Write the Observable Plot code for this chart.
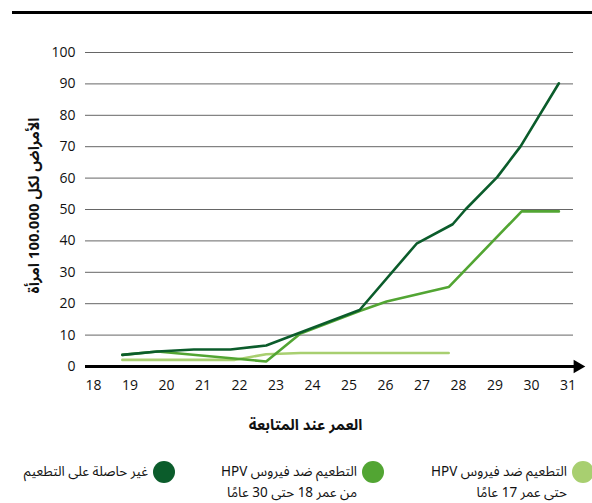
<!DOCTYPE html>
<html><head><meta charset="utf-8">
<script src="https://cdn.jsdelivr.net/npm/d3@7"></script>
<script src="https://cdn.jsdelivr.net/npm/@observablehq/plot@0.6"></script>
<style>
body{margin:0;background:#fff;width:592px;height:503px;position:relative;overflow:hidden;font-family:"Open Sans","DejaVu Sans",sans-serif;}
#rule{position:absolute;left:12px;top:11px;width:580px;height:3px;background:#000;}
#chart{position:absolute;left:0;top:14px;}
.dot{position:absolute;width:22px;height:22px;border-radius:50%;}
.txt{position:absolute;direction:rtl;text-align:right;font-family:"Noto Sans Arabic","DejaVu Sans",sans-serif;font-size:13.5px;line-height:21px;white-space:nowrap;color:#111;}
</style></head><body>
<div id="rule"></div>
<div id="chart"></div>
<div id="legend"></div>
<script>
// ---- data ----
const seriesNames = ["vax17", "vax18to30", "unvaccinated"];
const legendLabels = [
  ["التطعيم ضد فيروس HPV", "حتى عمر 17 عامًا"],
  ["التطعيم ضد فيروس HPV", "من عمر 18 حتى 30 عامًا"],
  ["غير حاصلة على التطعيم"]
];
const seriesColors = ["#a8cf70", "#52a533", "#0b5c2b"];

const agesVax17 = [18.79, 21.85, 22.73, 23.67, 27.73];
const ratesVax17 = [2.1, 2.1, 3.9, 4.3, 4.3];

const agesVax18to30 = [18.79, 19.75, 22.73, 23.67, 25.29, 26.03, 27.73, 29.73, 30.75];
const ratesVax18to30 = [3.7, 4.8, 1.6, 10.5, 17.7, 20.7, 25.3, 49.4, 49.4];

const agesUnvax = [18.79, 19.75, 20.75, 21.75, 22.73, 25.29, 26.85, 27.84, 28.19, 29.06, 29.7, 30.75];
const ratesUnvax = [3.7, 4.8, 5.4, 5.4, 6.7, 18.0, 39.1, 45.3, 50.0, 60.3, 70.1, 90.2];

const xTicks = [18, 19, 20, 21, 22, 23, 24, 25, 26, 27, 28, 29, 30, 31];
const yTicks = [0, 10, 20, 30, 40, 50, 60, 70, 80, 90, 100];
const xLabel = "العمر عند المتابعة";
const yLabel = "الأمراض لكل 100.000 امرأة";

// ---- build table ----
const seriesAges = [agesVax17, agesVax18to30, agesUnvax];
const seriesRates = [ratesVax17, ratesVax18to30, ratesUnvax];
const rows = [];
seriesNames.forEach((name, i) => {
  seriesAges[i].forEach((a, j) => rows.push({series: name, age: a, rate: seriesRates[i][j]}));
});

const xDomain = [17.78, 31.15];
const arrowX = xDomain[1] + 0.11;
const arabicFont = "'Noto Sans Arabic','DejaVu Sans',sans-serif";

const chart = Plot.plot({
  width: 592,
  height: 430,
  marginLeft: 85,
  marginRight: 19,
  marginTop: 38,
  marginBottom: 78,
  x: {domain: xDomain},
  y: {domain: [0, 100]},
  color: {domain: seriesNames, range: seriesColors},
  style: {fontSize: "14px", fontFamily: "'Open Sans', 'DejaVu Sans', sans-serif", color: "#111", background: "#fff"},
  marks: [
    Plot.ruleY(yTicks.filter(d => d > 0), {stroke: "#666", strokeWidth: 1}),
    Plot.axisX(xTicks, {tickSize: 0, tickPadding: 14, label: null}),
    Plot.axisY(yTicks, {tickSize: 0, tickPadding: 10, label: null}),
    Plot.line(rows, {x: "age", y: "rate", z: "series", stroke: "series", strokeWidth: 2.6, strokeLinejoin: "miter"}),
    Plot.ruleY([0], {x1: () => xDomain[0], x2: () => arrowX, stroke: "#000", strokeWidth: 3}),
    Plot.dot([0], {x: () => arrowX, y: d => d, symbol: "triangle", rotate: 90, r: 5, fill: "#000", stroke: null}),
    Plot.text([yLabel], {frameAnchor: "left", textAnchor: "middle", rotate: -90, dx: -51, dy: -4, fontWeight: "bold", fontSize: 15, fontFamily: arabicFont}),
    Plot.text([xLabel], {frameAnchor: "bottom", textAnchor: "middle", dx: -24, dy: 63, fontWeight: "bold", fontSize: 15, fontFamily: arabicFont})
  ]
});
document.getElementById("chart").appendChild(chart);

// ---- legend ----
const legend = document.getElementById("legend");
const legendCx = [583, 373, 164];
seriesNames.forEach((name, i) => {
  const dot = document.createElement("div");
  dot.className = "dot";
  dot.style.left = (legendCx[i] - 11) + "px";
  dot.style.top = "461px";
  dot.style.background = seriesColors[i];
  legend.appendChild(dot);
  const txt = document.createElement("div");
  txt.className = "txt";
  txt.style.right = (592 - (legendCx[i] - 16)) + "px";
  txt.style.top = "461px";
  legendLabels[i].forEach((line, k) => {
    const span = document.createElement("div");
    span.textContent = line;
    txt.appendChild(span);
  });
  legend.appendChild(txt);
});
</script>
</body></html>
